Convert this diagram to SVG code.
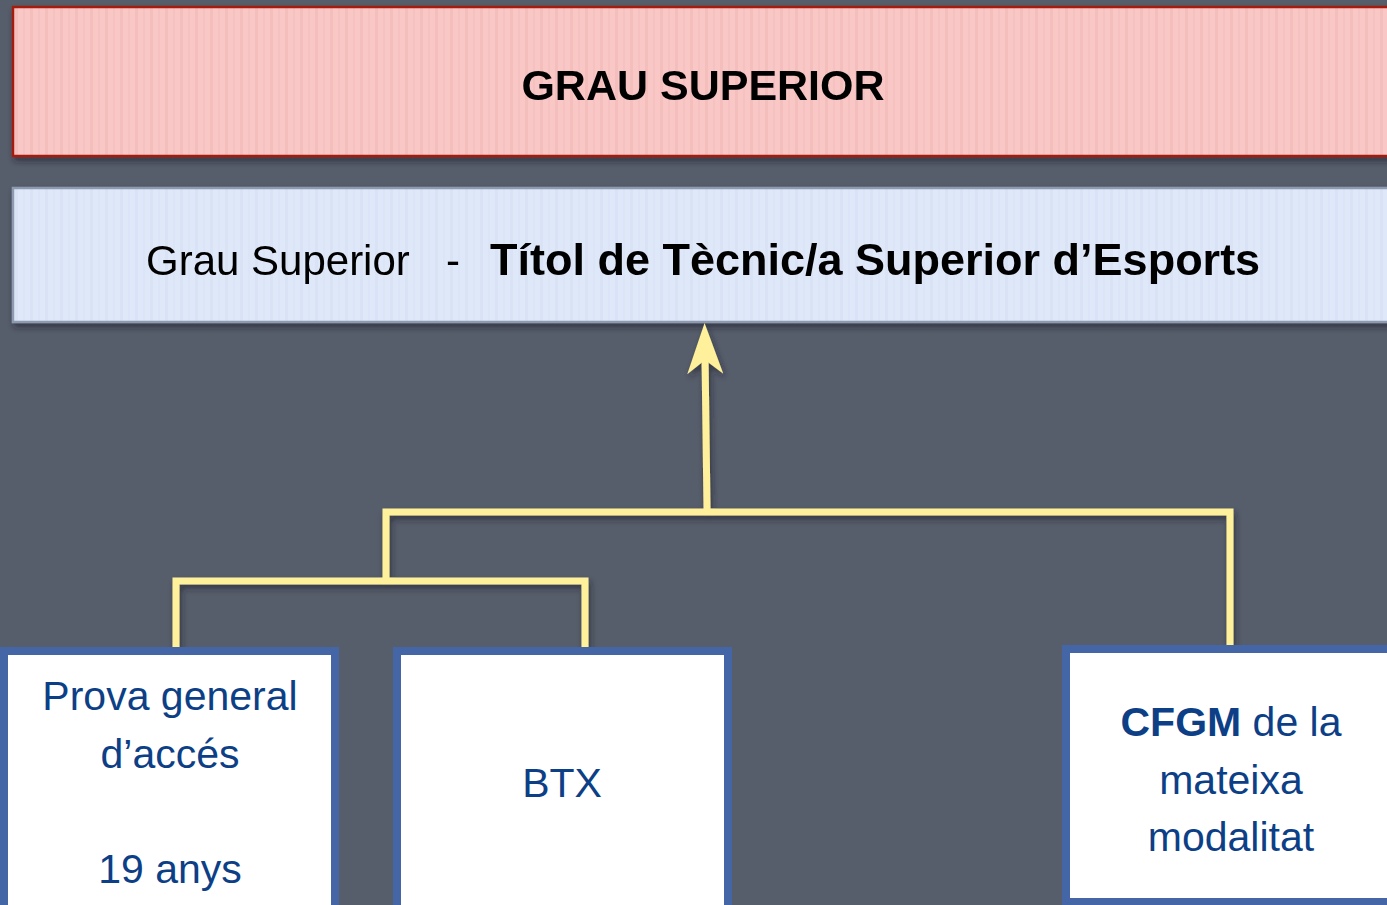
<svg xmlns="http://www.w3.org/2000/svg" width="1387" height="905" viewBox="0 0 1387 905">
<defs>
<pattern id="stripesPink" width="15" height="10" patternUnits="userSpaceOnUse">
<rect width="15" height="10" fill="#f9c7c5"/>
<rect x="0" width="3" height="10" fill="#f4bebd"/>
<rect x="8" width="2" height="10" fill="#f6c2c1"/>
</pattern>
<pattern id="stripesBlue" width="15" height="10" patternUnits="userSpaceOnUse">
<rect width="15" height="10" fill="#dfe8f9"/>
<rect x="0" width="3" height="10" fill="#d9e3f5"/>
<rect x="8" width="2" height="10" fill="#dce5f7"/>
</pattern>
<filter id="shadow" x="-20%" y="-50%" width="140%" height="200%">
<feDropShadow dx="2" dy="4" stdDeviation="3" flood-color="#1e222a" flood-opacity="0.6"/>
</filter>
<marker id="arrow" markerUnits="userSpaceOnUse" markerWidth="52" markerHeight="36" refX="19" refY="18" orient="auto" viewBox="0 0 52 36">
<path d="M51 18 L0 0 L14 18 L0 36 Z" fill="#fff19b"/>
</marker>
<style>
.conn{fill:none;stroke:#fff19b;stroke-width:7;stroke-linejoin:miter;stroke-linecap:square}
.box{fill:#ffffff;stroke:#4466a6;stroke-width:8}
.body{font-family:"Liberation Sans",Arial,sans-serif;font-size:41px;fill:#0d3f87;text-anchor:middle}
</style>
</defs>
<rect width="1387" height="905" fill="#575e6b"/>

<g id="header1" filter="url(#shadow)">
<rect x="13" y="7" width="1390" height="149" fill="url(#stripesPink)" stroke="#a31c0e" stroke-width="2.5"/>
<text x="703" y="100" font-family="Liberation Sans,Arial,sans-serif" font-weight="bold" font-size="43" fill="#000" text-anchor="middle">GRAU SUPERIOR</text>
</g>

<g id="header2" filter="url(#shadow)">
<rect x="13" y="188" width="1390" height="134" fill="url(#stripesBlue)" stroke="#8d9ab0" stroke-width="2.5"/>
<text y="275" font-family="Liberation Sans,Arial,sans-serif" fill="#000" font-size="42"><tspan x="146">Grau Superior</tspan><tspan x="446">-</tspan><tspan x="490" font-weight="bold" font-size="45">Títol de Tècnic/a Superior d’Esports</tspan></text>
</g>

<g id="connectors" filter="url(#shadow)">
<polyline class="conn" points="176,646 176,581 585,581 585,646"/>
<polyline class="conn" points="386,578 386,512 1230,512 1230,644"/>
<line class="conn" x1="707" y1="508" x2="705" y2="355" marker-end="url(#arrow)"/>
</g>

<g id="node-prova">
<rect class="box" x="4" y="651" width="331" height="270"/>
<text class="body" x="170" y="710">Prova general</text>
<text class="body" x="170" y="768">d’accés</text>
<text class="body" x="170" y="883">19 anys</text>
</g>

<g id="node-btx">
<rect class="box" x="397" y="651" width="331" height="270"/>
<text class="body" x="562" y="797">BTX</text>
</g>

<g id="node-cfgm">
<rect class="box" x="1066" y="649" width="340" height="253"/>
<text class="body" x="1231" y="736"><tspan font-weight="bold">CFGM</tspan> de la</text>
<text class="body" x="1231" y="794">mateixa</text>
<text class="body" x="1231" y="851">modalitat</text>
</g>
</svg>
